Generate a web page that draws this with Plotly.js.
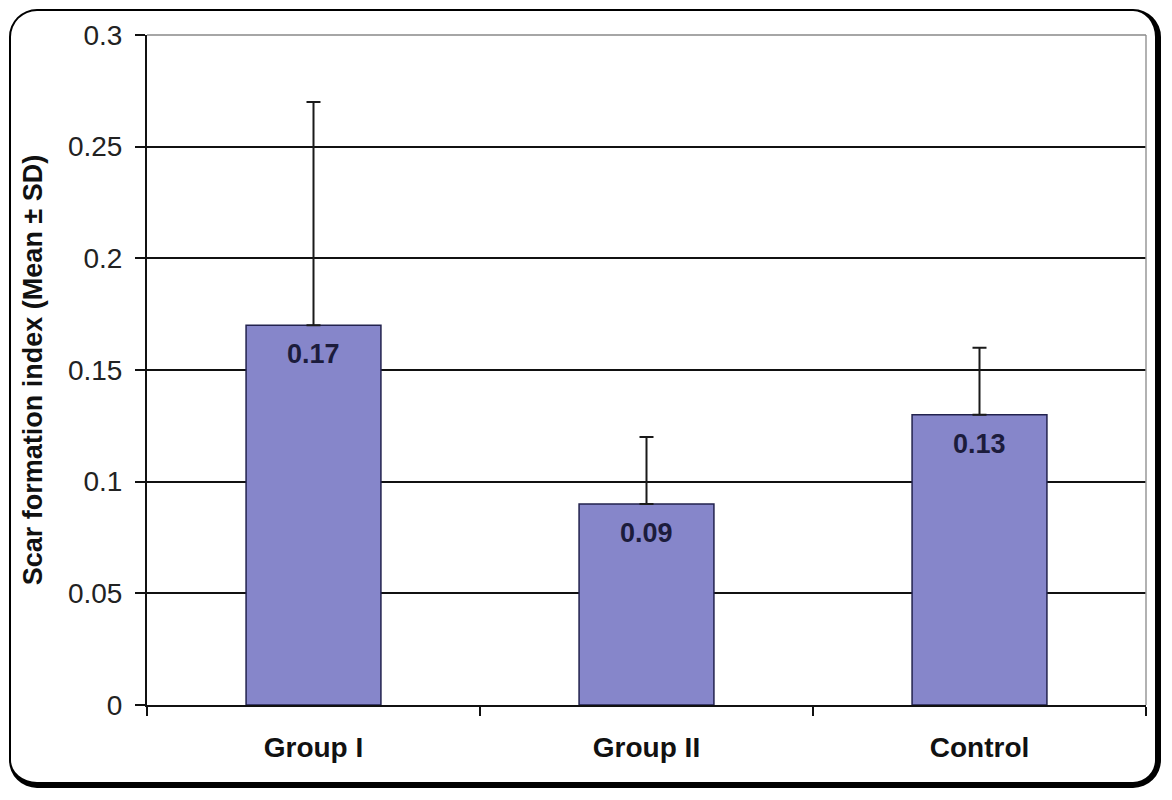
<!DOCTYPE html>
<html>
<head>
<meta charset="utf-8">
<script src="https://cdn.plot.ly/plotly-3.0.1.min.js"></script>
<style>
  html, body { margin: 0; padding: 0; background: #fff; }
  #frame {
    position: absolute; left: 9px; top: 9px; width: 1152px; height: 779px;
    box-sizing: border-box; border-style: solid; border-color: #000;
    border-width: 2px 6px 6px 2px; border-radius: 28px;
  }
  #chart { position: absolute; left: 0; top: 0; width: 1172px; height: 800px; }
</style>
</head>
<body>
<div id="frame"></div>
<div id="chart"></div>
<script>
// values
const groups = ['Group I', 'Group II', 'Control'];
const means = [0.17, 0.09, 0.13];
const sdPlus = [0.10, 0.03, 0.03];
const yTickVals = [0, 0.05, 0.1, 0.15, 0.2, 0.25, 0.3];
const yTickText = ['0', '0.05', '0.1', '0.15', '0.2', '0.25', '0.3'];

const FONT = '"Liberation Sans", Arial, sans-serif';

const bars = {
  type: 'bar',
  x: groups,
  y: means,
  width: 0.405,
  marker: { color: '#8686ca', line: { color: '#22224e', width: 1.5 } },
  error_y: {
    type: 'data', array: sdPlus, symmetric: false, arrayminus: [0, 0, 0],
    color: '#1a1a1a', thickness: 2, width: 7
  },
  hoverinfo: 'skip'
};

// value labels inside the top of each bar
const labels = groups.map((g, i) => ({
  x: g, y: means[i], xref: 'x', yref: 'y',
  text: '<b>' + means[i].toFixed(2) + '</b>',
  showarrow: false, yanchor: 'middle', yshift: -29,
  font: { family: FONT, size: 27, color: '#1c1c3c' }
}));

const layout = {
  width: 1172, height: 800,
  margin: { l: 147, r: 26, t: 35, b: 95 },
  paper_bgcolor: 'rgba(0,0,0,0)',
  plot_bgcolor: '#fff',
  showlegend: false,
  bargap: 0,
  xaxis: {
    type: 'category',
    tickson: 'boundaries',
    ticks: 'outside', ticklen: 9, tickwidth: 2, tickcolor: '#111',
    showline: true, linecolor: '#111', linewidth: 2,
    showgrid: false,
    ticklabelstandoff: 16,
    tickfont: { family: FONT, size: 28, color: '#111', weight: 'bold' }
  },
  yaxis: {
    range: [0, 0.3],
    tickvals: yTickVals, ticktext: yTickText,
    ticks: 'outside', ticklen: 10, tickwidth: 2, tickcolor: '#111',
    showline: true, linecolor: '#111', linewidth: 2,
    showgrid: true, gridcolor: '#111', gridwidth: 2,
    zeroline: false,
    ticklabelstandoff: 7,
    tickfont: { family: FONT, size: 28, color: '#222' },
    title: {
      text: '<b>Scar formation index (Mean ± SD)</b>',
      standoff: 17,
      font: { family: FONT, size: 27, color: '#111' }
    }
  },
  annotations: labels,
  shapes: [
    { type: 'line', xref: 'paper', yref: 'paper', x0: 1, x1: 1, y0: 0, y1: 1,
      line: { color: '#999', width: 1.5 } },
    { type: 'line', xref: 'paper', yref: 'paper', x0: 0, x1: 1, y0: 1, y1: 1,
      line: { color: '#888', width: 1.5 } }
  ]
};

Plotly.newPlot('chart', [bars], layout, { displayModeBar: false, staticPlot: true });
</script>
</body>
</html>
